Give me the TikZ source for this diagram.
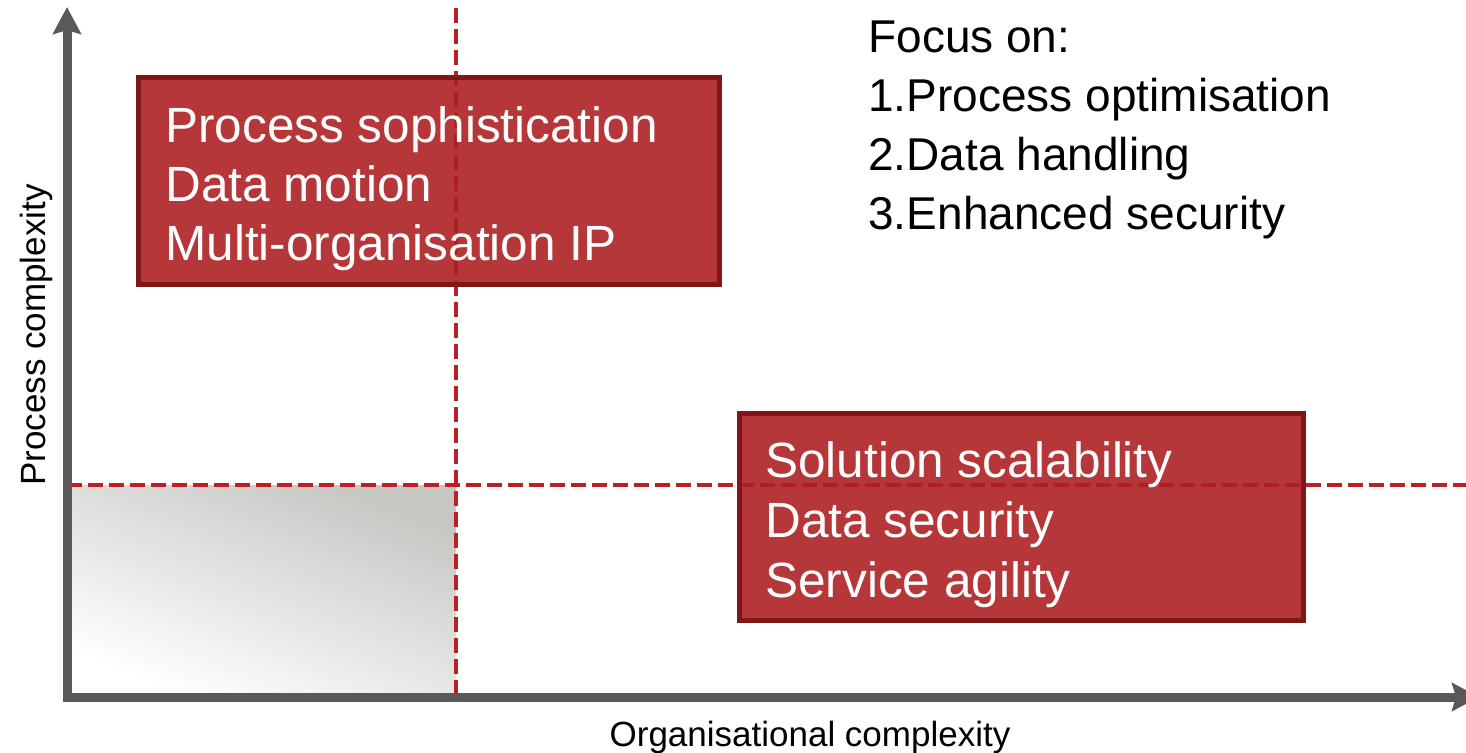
\documentclass[tikz,border=0pt]{standalone}
\usepackage{fontspec}
\setmainfont{Liberation Sans}
\usetikzlibrary{arrows.meta}
\definecolor{axisgray}{RGB}{89,89,89}
\definecolor{dashred}{RGB}{190,30,38}
\definecolor{boxfill}{RGB}{173,33,36}
\definecolor{boxedge}{RGB}{127,23,24}
\definecolor{shadegray}{RGB}{198,199,195}
\definecolor{rimgray}{RGB}{190,190,190}
\tikzset{
  axisline/.style={draw=axisgray, line width=4.5pt, -{Stealth[length=13.5pt,width=14pt,inset=2pt]}},
  divline/.style={draw=dashred, line width=2pt, dash pattern=on 7.5pt off 3pt},
  redbox/.style={draw=boxedge, line width=2.5pt, fill=boxfill, fill opacity=0.9, rectangle, inner sep=0pt, anchor=north west},
  boxtext/.style={text=white, inner sep=0pt, anchor=base west, font=\fontsize{24.75pt}{29.5pt}\selectfont},
  focustext/.style={text=black, inner sep=0pt, anchor=base west, font=\fontsize{23pt}{29.5pt}\selectfont},
  axislabel/.style={text=black, inner sep=0pt, anchor=base, font=\fontsize{17.5pt}{20pt}\selectfont}
}
\begin{document}
\begin{tikzpicture}[x=0.5pt,y=-0.5pt]
\useasboundingbox (0,0) rectangle (1466,752);
% shaded quadrant
\shade[shading=axis, bottom color=white, top color=shadegray, shading angle=-22] (70,485) rectangle (456,694);
\draw[rimgray, line width=0.6pt] (70,485) -- (70,694) -- (456,694);
% coordinates
\coordinate (ytop) at (67,7);
\coordinate (xend) at (1479,697);
\coordinate (vtop) at (456,8);
\coordinate (vbot) at (456,697);
\coordinate (hl) at (67,485);
\coordinate (hr) at (1466,485);
\coordinate (ybot) at (67,701);
\coordinate (xstart) at (63,697);
% divider lines
\draw[divline] (vtop) -- (vbot);
\draw[divline] (hl) -- (hr);
% axes
\draw[axisline] (ybot) -- (ytop);
\draw[axisline] (xstart) -- (xend);
% boxes
\node[redbox, minimum width=581*0.5pt, minimum height=207*0.5pt] (boxa) at (136,75) {};
\node[redbox, minimum width=564*0.5pt, minimum height=207*0.5pt] (boxb) at (737,411) {};
% box texts
\node[boxtext] (a1) at (165,142) {Process sophistication};
\node[boxtext] (a2) at (165,201) {Data motion};
\node[boxtext] (a3) at (165,260) {Multi-organisation IP};
\node[boxtext] (b1) at (765,477) {Solution scalability};
\node[boxtext] (b2) at (765,537) {Data security};
\node[boxtext] (b3) at (765,597) {Service agility};
% focus text
\node[focustext] (f0) at (868,52) {Focus on:};
\node[focustext] (f1) at (868,111) {1.Process optimisation};
\node[focustext] (f2) at (868,170) {2.Data handling};
\node[focustext] (f3) at (868,229) {3.Enhanced security};
% axis labels
\node[axislabel, rotate=90] (ylab) at (46,335) {Process complexity};
\node[axislabel] (xlab) at (810,746) {Organisational complexity};
\end{tikzpicture}
\end{document}
